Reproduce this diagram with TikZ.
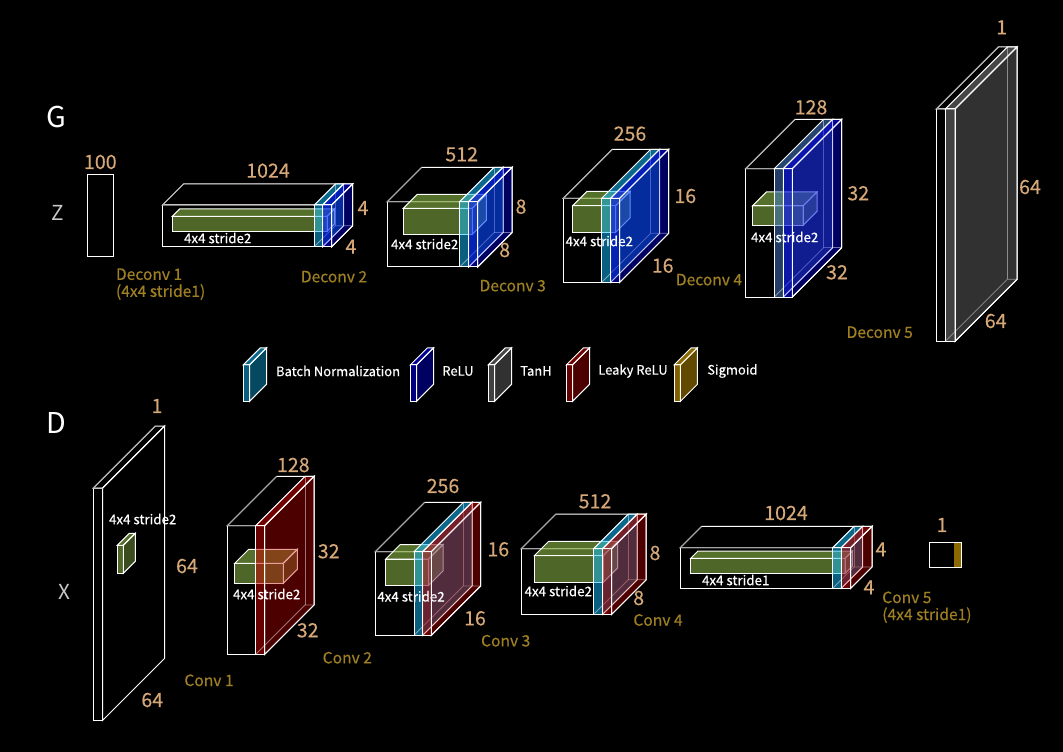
\documentclass[tikz,border=0pt]{standalone}
\usepackage{fontspec}
\setmainfont{Noto Sans CJK KR}
\newfontfamily\midfont[FakeBold=0.4]{Noto Sans CJK KR}
\newfontfamily\dimfont[FakeBold=0.25]{Noto Sans CJK KR}
\usetikzlibrary{positioning}

\definecolor{bnblue}{RGB}{20,190,255}
\definecolor{bngrey}{RGB}{68,124,204}
\definecolor{relublue}{RGB}{0,0,255}
\definecolor{tanhgrey}{RGB}{130,130,130}
\definecolor{leakyred}{RGB}{204,0,0}
\definecolor{sigmagold}{RGB}{255,192,0}
\definecolor{kernelgreen}{RGB}{156,204,80}
\definecolor{dimtan}{RGB}{214,168,120}
\definecolor{convgold}{RGB}{158,128,34}

% x y w h depth colour
\newcommand{\cuboid}[6]{
    \draw[edge, fill=#6, fill opacity=.55] (#1,#2) -- ++(#5,-#5) -- ++(#3,0) -- ++(-#5,#5) -- cycle;
    \draw[edge, fill=#6, fill opacity=.38] (#1+#3,#2) -- ++(#5,-#5) -- ++(0,#4) -- ++(-#5,#5) -- cycle;
    \draw[edge, fill=#6, fill opacity=.5] (#1,#2) rectangle ++(#3,#4);
}
% open box, its far diagonal and front top edge are dimmer
\newcommand{\wirebox}[5]{
    \cuboid{#1}{#2}{#3}{#4}{#5}{none}
    \draw[dimedge] (#1+#3,#2) -- (#1,#2) -- ++(#5,-#5);
}
% see-through layer, hidden edges show
\newcommand{\slab}[6]{
    \cuboid{#1}{#2}{#3}{#4}{#5}{#6}
    \draw[hiddenedge] (#1,#2+#4) -- ++(#5,-#5) -- ++(#3,0);
    \draw[hiddenedge] (#1+#5,#2-#5) -- ++(0,#4);
}

\begin{document}
\begin{tikzpicture}[
    x=0.75pt, y=-0.75pt,
    edge/.style={draw=white, line width=0.75pt},
    dimedge/.style={draw=white!65!black, line width=0.75pt},
    hiddenedge/.style={draw=white, draw opacity=.45, line width=0.6pt},
    dimlabel/.style={text=dimtan, font=\dimfont\fontsize{14.7}{16}\selectfont, inner sep=0pt},
    kernellabel/.style={text=white, font=\midfont\fontsize{10}{11}\selectfont, inner sep=0pt},
    convlabel/.style={text=convgold, font=\midfont\fontsize{11.7}{12.75}\selectfont, inner sep=0pt, align=left},
    legendlabel/.style={text=white, font=\midfont\fontsize{9.75}{11}\selectfont, inner sep=0pt, anchor=west},
    sidelabel/.style={text=white!78!black, font=\fontsize{15.5}{22}\selectfont, inner sep=0pt},
    partlabel/.style={text=white, font=\fontsize{21.5}{24}\selectfont, inner sep=0pt}
]
\fill[black] (0,0) rectangle (1063,752);
\useasboundingbox (0,0) rectangle (1063,752);

% Generator
\draw[edge] (87.3,175) rectangle (113.7,257);

\wirebox{162.5}{205}{169.2}{41.7}{21}
\cuboid{172.3}{216.3}{154.7}{15}{7.5}{kernelgreen}
\slab{314.3}{205}{8.4}{41.7}{21}{bnblue}
\slab{322.7}{205}{9}{41.7}{21}{relublue}

\wirebox{387.3}{201.7}{90.4}{65.3}{34.4}
\cuboid{403.3}{208.3}{69}{26}{14}{kernelgreen}
\slab{459.7}{201.7}{9}{65.3}{34.4}{bnblue}
\slab{468.7}{201.7}{9}{65.3}{34.4}{relublue}

\wirebox{563.3}{198.3}{56.4}{84}{49}
\cuboid{572.7}{205.7}{43}{26.6}{14.4}{kernelgreen}
\slab{601.7}{198.3}{9}{84}{49}{bnblue}
\slab{610.7}{198.3}{9}{84}{49}{relublue}

\wirebox{745.7}{168.7}{46.6}{128.3}{49.4}
\cuboid{752.3}{206}{50.7}{19.3}{14}{kernelgreen}
\slab{774.3}{168.7}{9}{128.3}{49.4}{bngrey}
\slab{783.3}{168.7}{9}{128.3}{49.4}{relublue}

\wirebox{936.3}{109}{18.7}{232.3}{62}
\slab{945.3}{109}{9.7}{232.3}{62}{tanhgrey}

% Legend
\cuboid{243.4}{364.8}{6.2}{36.5}{17}{bnblue}
\cuboid{410.4}{364.8}{6.2}{36.5}{17}{relublue}
\cuboid{488.3}{364.8}{6.2}{36.5}{17}{tanhgrey}
\cuboid{566.4}{364.8}{6.2}{36.5}{17}{leakyred}
\cuboid{674.2}{364.8}{6.2}{36.5}{17}{sigmagold}

\node[legendlabel] (bn_text) at (275.8,371) {Batch Normalization};
\node[legendlabel] (relu_text) at (442,371) {ReLU};
\node[legendlabel] (tanh_text) at (520,371) {TanH};
\node[legendlabel] (leaky_text) at (598,371) {Leaky ReLU};
\node[legendlabel] (sigmoid_text) at (707,371) {Sigmoid};

% Discriminator
\wirebox{93.3}{488}{9.4}{232.3}{62}
\cuboid{117.3}{545.3}{6}{28}{12}{kernelgreen}

\wirebox{227.3}{525.7}{37.4}{128.6}{49.4}
\cuboid{234.7}{563.3}{48.6}{20}{14}{kernelgreen}
\slab{255.7}{525.7}{9}{128.6}{49.4}{leakyred}

\wirebox{375.3}{551.7}{56}{83.6}{49.4}
\cuboid{385.7}{559}{43}{26.3}{14.3}{kernelgreen}
\slab{414}{551.7}{8.7}{83.6}{49.4}{bnblue}
\slab{422.7}{551.7}{8.6}{83.6}{49.4}{leakyred}

\wirebox{521.3}{548.7}{90.4}{65.6}{34.5}
\cuboid{534.3}{555.7}{69}{26.6}{14.4}{kernelgreen}
\slab{593.7}{548.7}{9}{65.6}{34.5}{bnblue}
\slab{602.7}{548.7}{9}{65.6}{34.5}{leakyred}

\wirebox{680.3}{547.7}{170.4}{40.6}{21.3}
\cuboid{690.7}{558.3}{154.3}{15}{7.3}{kernelgreen}
\slab{832.7}{547.7}{8.6}{40.6}{21.3}{bnblue}
\slab{841.3}{547.7}{9.4}{40.6}{21.3}{leakyred}

\draw[edge] (929.3,542.3) rectangle (961.7,567.3);
\fill[sigmagold!55!black] (954.3,542.8) rectangle (961.2,566.8);

% Labels
\node[partlabel] (g_text) at (56,117) {G};
\node[partlabel] (d_text) at (56,423) {D};
\node[sidelabel] (z_text) at (57.5,213) {Z};
\node[sidelabel] (x_text) at (64,592) {X};

\node[dimlabel] (g100) at (100.3,162) {100};
\node[dimlabel] (g1024) at (268,170.7) {1024};
\node[dimlabel] (g1024r) at (363,208) {4};
\node[dimlabel] (g1024b) at (351,246.7) {4};
\node[dimlabel] (g512) at (461.7,154.3) {512};
\node[dimlabel] (g512r) at (521,206.7) {8};
\node[dimlabel] (g512b) at (504.7,250) {8};
\node[dimlabel] (g256) at (630,133.7) {256};
\node[dimlabel] (g256r) at (685.3,196) {16};
\node[dimlabel] (g256b) at (662.7,265.7) {16};
\node[dimlabel] (g128) at (811,107.3) {128};
\node[dimlabel] (g128r) at (858.3,193.3) {32};
\node[dimlabel] (g128b) at (837,272.3) {32};
\node[dimlabel] (g1) at (1001.7,27.3) {1};
\node[dimlabel] (g64r) at (1030,187) {64};
\node[dimlabel] (g64b) at (995.7,321) {64};

\node[kernellabel] (gk1) at (217.7,238) {4x4 stride2};
\node[kernellabel] (gk2) at (424.7,244) {4x4 stride2};
\node[kernellabel] (gk3) at (599.3,241) {4x4 stride2};
\node[kernellabel] (gk4) at (784.7,237) {4x4 stride2};

\node[convlabel, anchor=west] (deconv1) at (115.7,284.2) {Deconv 1\\(4x4 stride1)};
\node[convlabel] (deconv2) at (334,276.7) {Deconv 2};
\node[convlabel] (deconv3) at (512.7,285.7) {Deconv 3};
\node[convlabel] (deconv4) at (709,279.7) {Deconv 4};
\node[convlabel] (deconv5) at (879.7,332.3) {Deconv 5};

\node[dimlabel] (d1) at (157,406) {1};
\node[dimlabel] (d64r) at (187,566) {64};
\node[dimlabel] (d64b) at (152.3,700) {64};
\node[dimlabel] (d128) at (293.3,465) {128};
\node[dimlabel] (d128r) at (328.7,551.3) {32};
\node[dimlabel] (d128b) at (307.7,630.3) {32};
\node[dimlabel] (d256) at (443,486) {256};
\node[dimlabel] (d256r) at (498.3,549.3) {16};
\node[dimlabel] (d256b) at (475,618.3) {16};
\node[dimlabel] (d512) at (595,501.3) {512};
\node[dimlabel] (d512r) at (655,553) {8};
\node[dimlabel] (d512b) at (638.7,598) {8};
\node[dimlabel] (d1024) at (786,513) {1024};
\node[dimlabel] (d1024r) at (881,549.3) {4};
\node[dimlabel] (d1024b) at (869,587.3) {4};
\node[dimlabel] (dout) at (942,525) {1};

\node[kernellabel] (dk1) at (142.7,519) {4x4 stride2};
\node[kernellabel] (dk2) at (266.7,594) {4x4 stride2};
\node[kernellabel] (dk3) at (411,596.3) {4x4 stride2};
\node[kernellabel] (dk4) at (558.3,591) {4x4 stride2};
\node[kernellabel] (dk5) at (735.7,580) {4x4 stride1};

\node[convlabel] (conv1) at (209,680.3) {Conv 1};
\node[convlabel] (conv2) at (347.3,657.7) {Conv 2};
\node[convlabel] (conv3) at (505.7,640.7) {Conv 3};
\node[convlabel] (conv4) at (658,620) {Conv 4};
\node[convlabel, anchor=west] (conv5) at (882,607.3) {Conv 5\\(4x4 stride1)};

\end{tikzpicture}
\end{document}
